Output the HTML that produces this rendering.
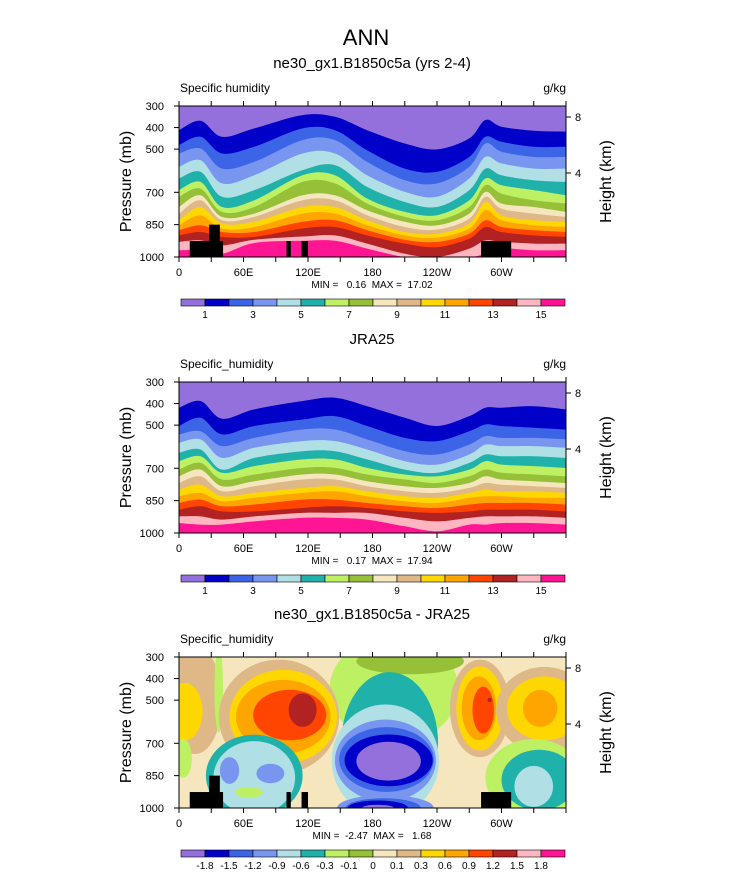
<!DOCTYPE html>
<html><head><meta charset="utf-8"><style>
html,body{margin:0;padding:0;background:#fff;}
svg{display:block;font-family:"Liberation Sans",Arial,sans-serif;}
text{white-space:pre;}
</style></head><body>
<svg id="chart" width="733" height="888" viewBox="0 0 733 888" xmlns="http://www.w3.org/2000/svg">
<text x="366" y="45" font-size="22" text-anchor="middle">ANN</text>
<g id="plots"></g>
</svg>
<script>
// ---------- data ----------
const lons = [0,20,40,70,115,145,175,210,240,270,285,300,330,360];
// pressure (mb) of contour boundaries 1..15 g/kg, model
const modelL1 = [412,368,443,404,342,350,412,474,501,450,365,396,415,419];
const modelL2 = [481,443,520,489,404,412,505,590,605,536,443,466,489,489];
const modelL3 = [520,497,590,559,458,458,559,644,659,582,474,512,536,536];
const modelL4 = [582,551,659,621,520,520,621,698,721,636,536,566,590,590];
const modelL5 = [636,605,721,690,597,574,675,745,768,690,590,621,644,652];
const modelL6 = [690,652,768,737,621,621,729,791,806,737,636,667,690,714];
const modelL7 = [721,683,791,768,652,659,752,814,830,768,667,706,737,752];
const modelL8 = [768,714,814,799,714,714,783,837,853,799,698,752,768,791];
const modelL9 = [799,737,830,814,737,737,806,861,873,822,721,776,799,814];
const modelL10 = [830,768,845,837,768,768,830,884,892,845,745,807,830,837];
const modelL11 = [853,807,868,861,799,799,853,900,910,868,783,830,853,861];
const modelL12 = [876,853,884,884,837,830,876,920,930,892,830,861,876,884];
const modelL13 = [900,884,907,907,868,861,900,938,954,915,861,884,900,907];
const modelL14 = [930,923,946,920,905,900,938,985,1000,961,923,930,938,938];
const modelL15 = [969,969,985,935,925,925,961,1000,1000,1000,985,961,969,969];
// reanalysis JRA25
const obsL1 = [419,388,470,427,388,373,412,466,504,458,419,419,412,427];
const obsL2 = [504,466,543,504,474,458,504,559,574,528,497,504,512,520];
const obsL3 = [543,528,597,559,520,520,566,621,636,590,551,559,559,566];
const obsL4 = [582,566,652,605,574,574,613,667,683,636,590,597,597,605];
const obsL5 = [628,613,706,652,621,621,659,706,721,675,636,644,644,652];
const obsL6 = [667,644,721,690,659,659,698,729,737,706,667,683,690,698];
const obsL7 = [706,675,752,729,698,698,729,752,768,737,706,721,729,737];
const obsL8 = [737,706,783,760,729,729,760,783,791,768,737,752,760,768];
const obsL9 = [768,737,806,783,752,752,783,806,814,791,768,776,783,791];
const obsL10 = [799,776,830,814,791,783,806,830,837,814,799,807,807,814];
const obsL11 = [830,814,853,837,814,807,830,853,861,837,830,830,837,837];
const obsL12 = [861,845,876,868,845,845,861,876,884,868,861,861,861,868];
const obsL13 = [892,876,900,900,884,876,884,900,907,900,892,892,892,900];
const obsL14 = [923,923,938,923,907,907,907,930,946,930,923,923,923,930];
const obsL15 = [954,961,961,946,930,930,938,969,992,961,961,954,954,961];
// difference field blobs (lon center, p center, lon radius, p radius, value g/kg)
const blobLon = [15,37,200,215,93,97,97,103,115,5,196,192,192,193,195,195,192,190,185,185,70,70,47,85,65,280,280,279,283,289,340,340,336,330,335,330,4];
const blobP   = [500,450,450,320,577,577,577,569,546,553,700,780,780,775,779,783,1000,1000,1000,1000,850,860,826,840,927,538,538,538,546,499,546,538,538,860,870,900,770];
const blobRLon= [25,4,60,50,56,50,44,34,13,17,45,50,47,44,41,30,45,35,28,15,45,38,9,13,13,28,22,16,10,2,45,35,16,45,35,18,8];
const blobRP  = [250,200,250,60,265,218,171,117,78,133,330,260,190,150,120,90,60,45,35,15,190,170,62,45,25,226,195,148,109,10,200,148,86,180,140,95,90];
const blobVal = [0.2,-0.2,-0.2,-0.05,0.2,0.45,0.75,1.05,1.35,0.45,-0.45,-0.75,-1.05,-1.35,-1.65,-2.0,-1.05,-1.35,-1.65,-2.0,-0.45,-0.75,-1.05,-1.05,-0.2,0.2,0.45,0.75,1.05,1.35,0.2,0.45,0.75,-0.2,-0.45,-0.75,-0.2];
const diffLevels = [-1.8,-1.5,-1.2,-0.9,-0.6,-0.3,-0.1,0,0.1,0.3,0.6,0.9,1.2,1.5,1.8];
const diffLabels = ["-1.8","-1.5","-1.2","-0.9","-0.6","-0.3","-0.1","0","0.1","0.3","0.6","0.9","1.2","1.5","1.8"];
const qLabels = ["1","3","5","7","9","11","13","15"];
const pTicks = [300,400,500,700,850,1000];
const lonTicks = [0,60,120,180,240,300];
const lonTickLabels = ["0","60E","120E","180","120W","60W"];
const hTicks = [8,4];
// topography (lon start, lon end, top pressure)
const topoLon0 = [10,28,100,114,281];
const topoLon1 = [41,38,104,120,309];
const topoP = [926,850,926,926,926];

const colors = ["#9370DB","#0000C8","#3C64E6","#7896F0","#B0E0E6","#20B2AA","#BEF064","#96C037","#F5E6BE","#DEB887","#FFD700","#FFA500","#FF4500","#B22222","#FFB6C1","#FF1493"];

const modelLevels = [modelL1,modelL2,modelL3,modelL4,modelL5,modelL6,modelL7,modelL8,modelL9,modelL10,modelL11,modelL12,modelL13,modelL14,modelL15];
const obsLevels = [obsL1,obsL2,obsL3,obsL4,obsL5,obsL6,obsL7,obsL8,obsL9,obsL10,obsL11,obsL12,obsL13,obsL14,obsL15];

// ---------- drawing ----------
const NS = "http://www.w3.org/2000/svg";
const root = document.getElementById("plots");
function mk(tag, attrs, parent){
  const e = document.createElementNS(NS, tag);
  for (const k in attrs) e.setAttribute(k, attrs[k]);
  (parent||root).appendChild(e);
  return e;
}
const X0 = 179, W = 387, H = 151;
function xOf(lon){ return X0 + lon/360*W; }
function yOf(p, y0){ return y0 + (p-300)/700*H; }
function hY(km, y0){ return y0 + 11 + (8-km)/4*56; }
function binOf(v){ let i=0; while(i<diffLevels.length && v>=diffLevels[i]) i++; return i; }
function smoothPath(pts){
  let d = "M" + pts[0][0].toFixed(1) + "," + pts[0][1].toFixed(1);
  for (let i=0;i<pts.length-1;i++){
    const p0 = pts[Math.max(0,i-1)], p1 = pts[i], p2 = pts[i+1], p3 = pts[Math.min(pts.length-1,i+2)];
    const c1x = p1[0] + (p2[0]-p0[0])/6, c1y = p1[1] + (p2[1]-p0[1])/6;
    const c2x = p2[0] - (p3[0]-p1[0])/6, c2y = p2[1] - (p3[1]-p1[1])/6;
    d += " C" + c1x.toFixed(1) + "," + c1y.toFixed(1) + " " + c2x.toFixed(1) + "," + c2y.toFixed(1) + " " + p2[0].toFixed(1) + "," + p2[1].toFixed(1);
  }
  return d;
}

function panel(idx, y0, subtitle, leftLabel, kind, levels, minmax, labels, labelStep){
  const g = mk("g", {});
  
  
  const st = mk("text", {x:372, y:y0-38, "font-size":15, "text-anchor":"middle"}, g);
  st.textContent = subtitle;
  
  
  const ll = mk("text", {x:180, y:y0-14, "font-size":12}, g);
  ll.textContent = leftLabel;
  
  
  const ul = mk("text", {x:566, y:y0-14, "font-size":12, "text-anchor":"end"}, g);
  ul.textContent = "g/kg";
  
  
  const cp = mk("clipPath", {id:"clip"+idx}, g);
  mk("rect", {x:X0, y:y0, width:W, height:H}, cp);
  const plot = mk("g", {"clip-path":"url(#clip"+idx+")"}, g);
  
  
  if (kind === "levels"){
    mk("rect", {x:X0, y:y0, width:W, height:H, fill:colors[0]}, plot);
    levels.forEach((arr, k) => {
      const pts = lons.map((lon, i) => [xOf(lon), yOf(arr[i], y0)]);
      let d = smoothPath(pts);
      d += " L" + (X0+W) + "," + (y0+H+2) + " L" + X0 + "," + (y0+H+2) + " Z";
      const p = mk("path", {d:d, fill:colors[k+1]}, plot);
      
      
    });
  } else {
    mk("rect", {x:X0, y:y0, width:W, height:H, fill:colors[8]}, plot);
    blobVal.forEach((v, i) => {
      const e = mk("ellipse", {cx:xOf(blobLon[i]), cy:yOf(blobP[i], y0), rx:blobRLon[i]/360*W, ry:blobRP[i]/700*H, fill:colors[binOf(v)]}, plot);
      
      
    });
  }
  if (idx !== 2){
    topoP.forEach((tp, i) => {
      const r = mk("rect", {x:xOf(topoLon0[i]), y:yOf(tp, y0), width:xOf(topoLon1[i])-xOf(topoLon0[i]), height:y0+H-yOf(tp,y0), fill:"#000"}, plot);
      
      
    });
  }
  const fr = mk("rect", {x:X0, y:y0, width:W, height:H, fill:"none", stroke:"#000", "stroke-width":1}, g);
  
  
  for (let lon=0; lon<=360; lon+=30){
    mk("line", {x1:xOf(lon), x2:xOf(lon), y1:y0+H, y2:y0+H+5, stroke:"#000"}, g);
    mk("line", {x1:xOf(lon), x2:xOf(lon), y1:y0, y2:y0-5, stroke:"#000"}, g);
  }
  lonTicks.forEach((lon, i) => {
    const t = mk("text", {x:xOf(lon), y:y0+H+19, "font-size":11, "text-anchor":"middle"}, g);
    t.textContent = lonTickLabels[i];
    
    
  });
  pTicks.forEach(p => {
    mk("line", {x1:X0-5, x2:X0, y1:yOf(p,y0), y2:yOf(p,y0), stroke:"#000"}, g);
    const t = mk("text", {x:X0-15, y:yOf(p,y0)+4, "font-size":11, "text-anchor":"end"}, g);
    t.textContent = p;
    
    
  });
  hTicks.forEach(h => {
    mk("line", {x1:X0+W, x2:X0+W+5, y1:hY(h,y0), y2:hY(h,y0), stroke:"#000"}, g);
    const t = mk("text", {x:X0+W+9, y:hY(h,y0)+4, "font-size":11}, g);
    t.textContent = h;
    
    
  });
  const yl = mk("text", {x:0, y:0, "font-size":16, "text-anchor":"middle", transform:"translate(131,"+(y0+H/2)+") rotate(-90)"}, g);
  yl.textContent = "Pressure (mb)";
  
  
  const yr = mk("text", {x:0, y:0, "font-size":16, "text-anchor":"middle", transform:"translate(611,"+(y0+H/2)+") rotate(-90)"}, g);
  yr.textContent = "Height (km)";
  
  
  const mm = mk("text", {x:372, y:y0+H+31, "font-size":10, "text-anchor":"middle"}, g);
  mm.textContent = minmax;
  
  
  const cy = y0 + H + 42;
  const cb = mk("g", {}, g);
  
  
  colors.forEach((c, i) => {
    mk("rect", {x:181+i*24, y:cy, width:24, height:7, fill:c, stroke:"#000", "stroke-width":0.6}, cb);
  });
  labels.forEach((lab, i) => {
    const b = labelStep === 2 ? 1 + i*2 : 1 + i;
    const t = mk("text", {x:181+b*24, y:cy+19, "font-size":10, "text-anchor":"middle"}, cb);
    t.textContent = lab;
    
    
  });
}
panel(1, 106, "ne30_gx1.B1850c5a (yrs 2-4)", "Specific humidity", "levels", modelLevels, "MIN =   0.16  MAX =  17.02", qLabels, 2);
panel(2, 382, "JRA25", "Specific_humidity", "levels", obsLevels, "MIN =   0.17  MAX =  17.94", qLabels, 2);
panel(3, 657, "ne30_gx1.B1850c5a - JRA25", "Specific_humidity", "diff", null, "MIN =  -2.47  MAX =   1.68", diffLabels, 1);
</script>
</body></html>
